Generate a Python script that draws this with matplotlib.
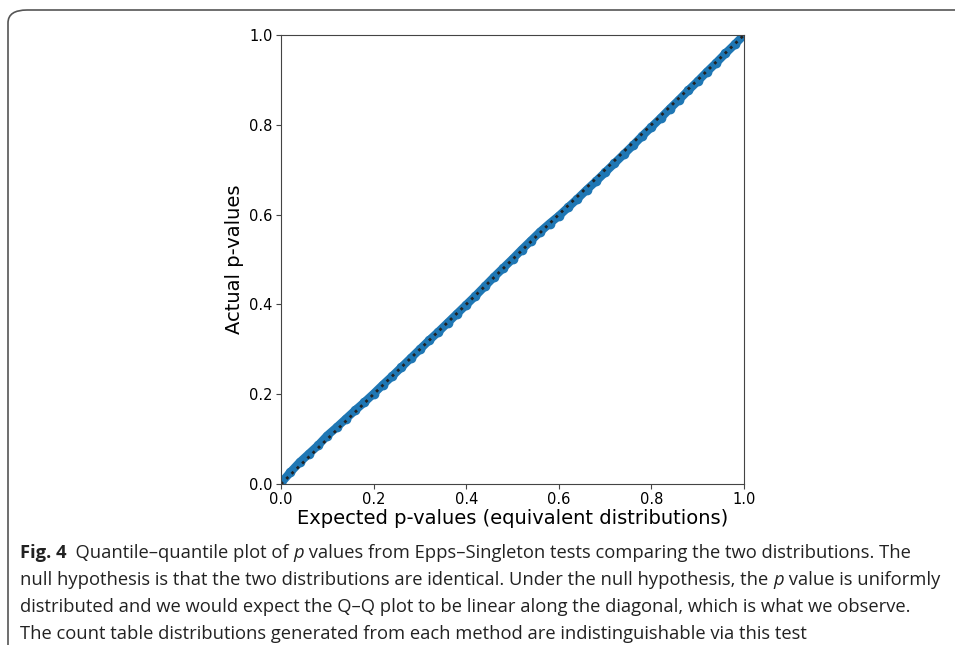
import matplotlib.pyplot as plt
from matplotlib.patches import FancyBboxPatch

expected = [0.00, 0.02, 0.04, 0.06, 0.08, 0.10, 0.12, 0.14, 0.16, 0.18,
            0.20, 0.22, 0.24, 0.26, 0.28, 0.30, 0.32, 0.34, 0.36, 0.38,
            0.40, 0.42, 0.44, 0.46, 0.48, 0.50, 0.52, 0.54, 0.56, 0.58,
            0.60, 0.62, 0.64, 0.66, 0.68, 0.70, 0.72, 0.74, 0.76, 0.78,
            0.80, 0.82, 0.84, 0.86, 0.88, 0.90, 0.92, 0.94, 0.96, 0.98, 1.00]
actual = [0.002, 0.026, 0.048, 0.067, 0.086, 0.108, 0.126, 0.145, 0.164, 0.182,
          0.201, 0.221, 0.240, 0.260, 0.280, 0.300, 0.320, 0.339, 0.359, 0.379,
          0.399, 0.419, 0.440, 0.461, 0.481, 0.501, 0.522, 0.542, 0.562, 0.580,
          0.597, 0.616, 0.635, 0.655, 0.674, 0.694, 0.714, 0.734, 0.754, 0.775,
          0.795, 0.815, 0.836, 0.856, 0.877, 0.897, 0.918, 0.938, 0.959, 0.979, 1.000]
diag = [0.0, 1.0]

ticks = [0.0, 0.2, 0.4, 0.6, 0.8, 1.0]

caption = [
    [("Fig. 4", "bold", "normal"), ("  Quantile\u2013quantile plot of ", "normal", "normal"),
     ("p", "normal", "italic"),
     (" values from Epps\u2013Singleton tests comparing the two distributions. The", "normal", "normal")],
    [("null hypothesis is that the two distributions are identical. Under the null hypothesis, the ", "normal", "normal"),
     ("p", "normal", "italic"), (" value is uniformly", "normal", "normal")],
    [("distributed and we would expect the Q\u2013Q plot to be linear along the diagonal, which is what we observe.", "normal", "normal")],
    [("The count table distributions generated from each method are indistinguishable via this test", "normal", "normal")],
]

fig = plt.figure(figsize=(9.55, 6.45), dpi=100)

# rounded frame around the figure panel
frame = FancyBboxPatch((8 / 955, -0.2), 1.2, 1.2 - 10 / 645,
                       boxstyle="round,pad=0,rounding_size=0.02",
                       transform=fig.transFigure, fill=False,
                       edgecolor="#555555", linewidth=1.2)
fig.patches.append(frame)

ax = fig.add_axes([281 / 955, 1 - 484 / 645, 463 / 955, 449 / 645])
ax.plot(expected, actual, "o-", color="#1f77b4", markersize=6, linewidth=6)
ax.plot(diag, diag, ":", color="#222222", linewidth=2)
ax.set_xlim(0, 1)
ax.set_ylim(0, 1)
ax.set_xticks(ticks)
ax.set_yticks(ticks)
ax.tick_params(labelsize=10.5, color="#444444", pad=2.5)
for s in ax.spines.values():
    s.set_color("#444444")
ax.set_xlabel("Expected p-values (equivalent distributions)", fontsize=14, labelpad=1)
ax.set_ylabel("Actual p-values", fontsize=14, labelpad=4)

# caption with mixed bold / italic runs
fig.canvas.draw()
renderer = fig.canvas.get_renderer()
baselines = [558, 585, 612, 639]
for line, yb in zip(caption, baselines):
    x = 20 / 955
    for txt, weight, style in line:
        t = fig.text(x, 1 - yb / 645, txt, fontsize=13.2, family="Open Sans",
                     fontweight=weight, fontstyle=style, va="baseline", ha="left",
                     color="#222222")
        bb = t.get_window_extent(renderer)
        x += bb.width / fig.bbox.width

fig.savefig("out.png", dpi=100)
